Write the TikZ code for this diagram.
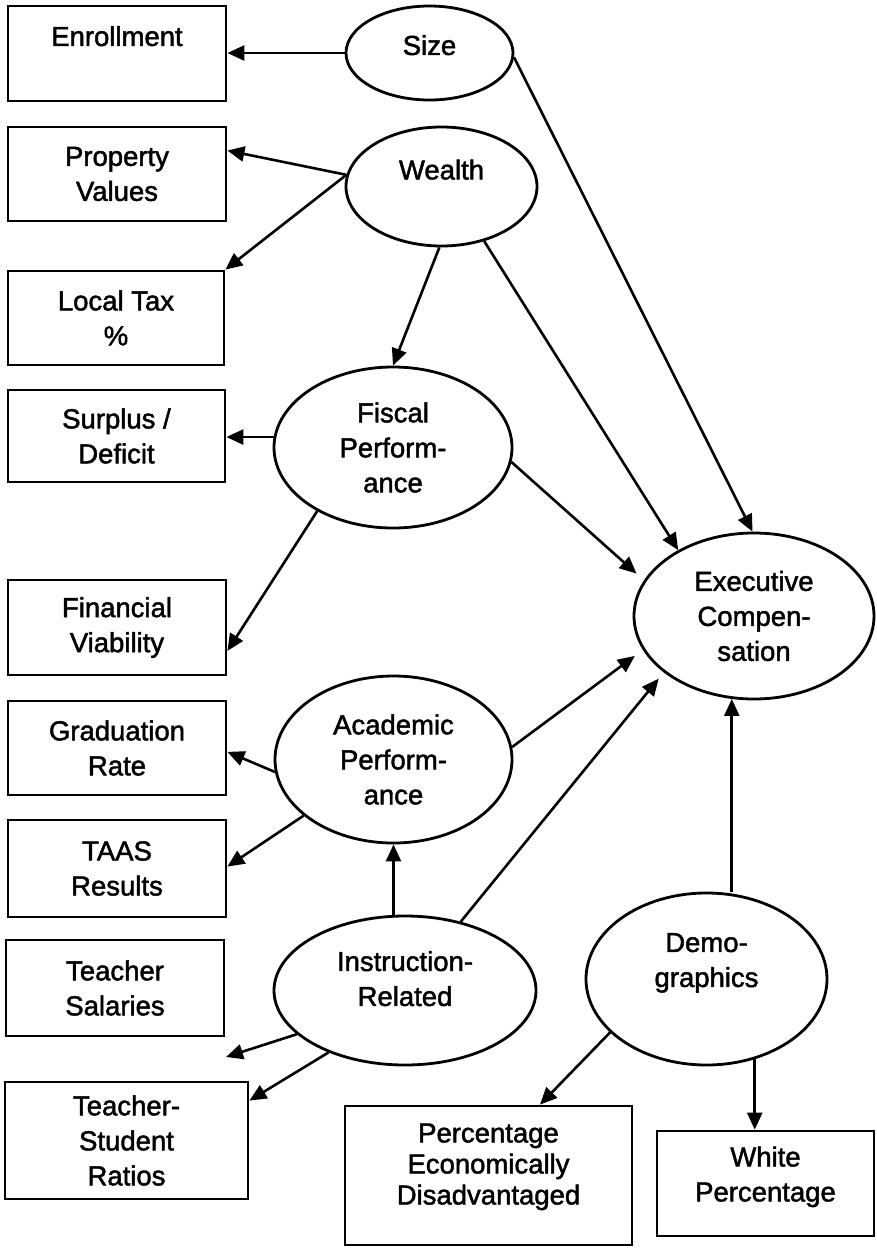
\documentclass[tikz,border=0pt]{standalone}
\usepackage{fontspec}
\setmainfont{Liberation Sans}[FakeBold=1.7]
\usetikzlibrary{shapes.geometric,arrows.meta}
\begin{document}
\begin{tikzpicture}[x=1pt,y=-1pt,
  txt/.style={font=\fontsize{27.5}{35}\selectfont, align=center},
  box/.style={txt, draw, line width=2.8pt, rectangle, inner sep=0pt},
  ell/.style={txt, draw, line width=2.8pt, ellipse, inner sep=0pt},
  arr/.style={line width=2.6pt, -{Triangle[length=17pt,width=15pt]}}
]
\useasboundingbox (0,0) rectangle (877,1248);
% boxes
\node[box, minimum width=218pt, minimum height=95pt] (enroll) at (117,53.5) {Enrollment\\\mbox{}};
\node[box, minimum width=218pt, minimum height=94pt] (prop) at (117,174) {Property\\Values};
\node[box, minimum width=216pt, minimum height=94pt] (tax) at (116,318) {Local Tax\\\%};
\node[box, minimum width=217pt, minimum height=92pt] (surplus) at (116.5,436) {Surplus /\\Deficit};
\node[box, minimum width=218pt, minimum height=95pt] (finvia) at (117,627.5) {Financial\\Viability};
\node[box, minimum width=218pt, minimum height=94pt] (grad) at (117,748) {Graduation\\Rate};
\node[box, minimum width=218pt, minimum height=97pt] (taas) at (117,868.5) {TAAS\\Results};
\node[box, minimum width=218pt, minimum height=96pt] (tsal) at (115,988) {Teacher\\Salaries};
\node[box, minimum width=243pt, minimum height=117pt] (tsr) at (126.5,1140.5) {Teacher-\\Student\\Ratios};
\node[box, font=\fontsize{27.5}{31}\selectfont, minimum width=287pt, minimum height=139pt] (pct) at (488.5,1175.5) {Percentage\\Economically\\Disadvantaged\\[-8pt]\mbox{}};
\node[box, minimum width=217pt, minimum height=105pt] (white) at (765.5,1183.5) {White\\Percentage\\[-16pt]\mbox{}};
% ellipses
\node[ell, minimum width=167pt, minimum height=94pt] (size) at (429.5,53) {Size\\[-19pt]\mbox{}};
\node[ell, minimum width=191pt, minimum height=119pt] (wealth) at (441.5,186.5) {Wealth\\[-1pt]\mbox{}};
\node[ell, minimum width=238pt, minimum height=161pt] (fiscal) at (393,447.5) {Fiscal\\Perform-\\ance};
\node[ell, minimum width=237pt, minimum height=167pt] (academic) at (393.5,759.5) {Academic\\Perform-\\ance};
\node[ell, minimum width=262pt, minimum height=149pt] (instr) at (405,990.5) {Instruction-\\Related\\[-11pt]\mbox{}};
\node[ell, minimum width=241pt, minimum height=172pt] (demo) at (706.5,979) {Demo-\\graphics\\[3pt]\mbox{}};
\node[ell, minimum width=240pt, minimum height=166pt] (exec) at (754,616) {Executive\\Compen-\\sation};
\coordinate (free) at (226,1057);
% connectors
\draw[arr] (size.west) -- (size.west -| enroll.east);
\draw[arr] (wealth.173) -- (prop.12.3);
\draw[arr] (wealth.173) -- (tax.north east);
\draw[arr] (wealth.268) -- (fiscal.north);
\draw[arr] (wealth.308) -- (exec.139);
\draw[arr] (size.357) -- (exec.91);
\draw[arr] (fiscal.175) -- (fiscal.175 -| surplus.east);
\draw[arr] (fiscal.220) -- (finvia.348.6);
\draw[arr, shorten >=10pt] (fiscal.353) -- (exec.162);
\draw[arr, shorten >=10pt] (academic.6) -- (exec.197);
\draw[arr, shorten >=8pt] (instr.51.5) -- (exec.212);
\draw[arr] (exec.255 |- demo.north) -- (exec.255);
\draw[arr] (academic.south |- instr.north) -- (academic.south);
\draw[arr] (academic.186) -- (grad.358.5);
\draw[arr] (academic.212) -- (taas.1);
\draw[arr] (instr.202) -- (free);
\draw[arr] (instr.219) -- (tsr.18.7);
\draw[arr] (demo.209.6) -- (pct.54.7);
\draw[arr] (demo.301) -- (demo.301 |- white.north);
\end{tikzpicture}
\end{document}
